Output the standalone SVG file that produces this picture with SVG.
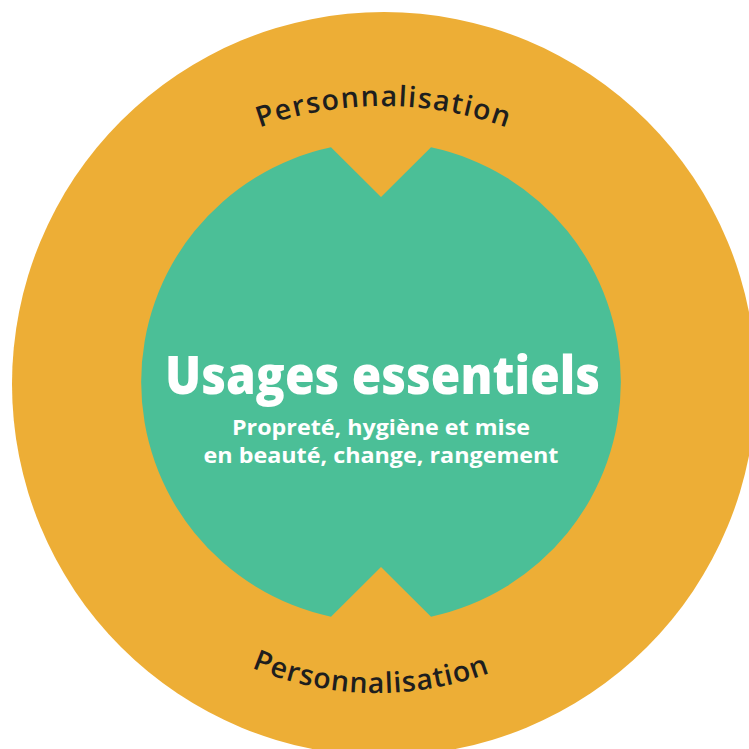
<svg xmlns="http://www.w3.org/2000/svg" width="749" height="749" viewBox="0 0 749 749">
<style>
.orange{fill:#EDAE36}
.green{fill:#4BBF97}
.arc{font-family:"Open Sans","Noto Sans",sans-serif;font-size:28.5px;font-weight:600;fill:#1E1E1E}
.title{font-family:"Open Sans","Noto Sans",sans-serif;font-size:53px;font-weight:800;fill:#FFFFFF}
.sub{font-family:"Open Sans","Noto Sans",sans-serif;font-size:22px;font-weight:700;fill:#FFFFFF}
</style>
<defs>
<path id="topArc" d="M173.1,172.2 A366,366 0 0 1 592.9,172.2" fill="none"/>
<path id="botArc" d="M163.6,612.8 A324,324 0 0 0 580,621.5" fill="none"/>
</defs>
<rect width="749" height="749" fill="#FFFFFF"/>
<g id="outer">
<circle class="orange" cx="384" cy="384" r="372"/>
<text class="arc" text-anchor="middle"><textPath href="#topArc" startOffset="50%" textLength="252">Personnalisation</textPath></text>
<text class="arc" text-anchor="middle"><textPath href="#botArc" startOffset="50%" textLength="244">Personnalisation</textPath></text>
</g>
<g id="inner">
<path class="green" d="M331,147.3 L381,197 L431,147.3 A240,240 0 0 1 431,616.7 L381,567 L331,616.7 A240,240 0 0 1 331,147.3 Z"/>
<text class="title" x="382.5" y="394" text-anchor="middle" textLength="435" lengthAdjust="spacingAndGlyphs">Usages essentiels</text>
<text class="sub" x="381" y="435" text-anchor="middle" textLength="298" lengthAdjust="spacingAndGlyphs">Propreté, hygiène et mise</text>
<text class="sub" x="381" y="463" text-anchor="middle" textLength="355" lengthAdjust="spacingAndGlyphs">en beauté, change, rangement</text>
</g>
</svg>
